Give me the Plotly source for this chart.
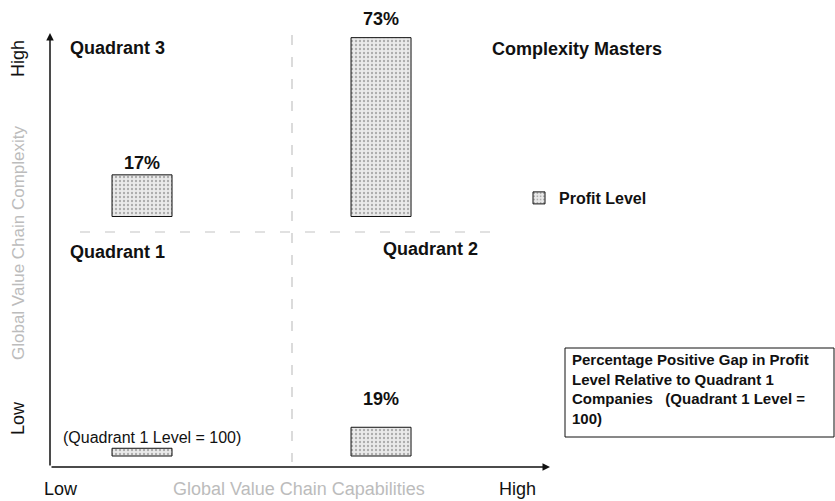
import plotly.graph_objects as go

# Profit level by global value chain capability (Quadrant 1 level = 100)
capability = ["Low", "High"]
profit_low_complexity = [100, 119]    # Quadrant 1, Quadrant 2
profit_high_complexity = [117, 173]   # Quadrant 3, Complexity Masters
reference_level = 100
series_name = "Profit Level"

W, H = 835, 501
ML, MR, MT, MB = 50, 285, 35, 34
PW, PH = W - ML - MR, H - MT - MB


def px_x(px):
    return (px - ML) / PW


def px_y(py):
    return (H - MB - py) / PH


split = px_y(232)          # horizontal quadrant divider
lower_base = 93            # bottom of the lower-half bars
upper_base = reference_level

# value <-> pixel mapping for each half
low_scale = 1.105
low_base_px = 456
low_range = [lower_base - (H - MB - low_base_px) / low_scale,
             lower_base + (low_base_px - 232) / low_scale]
up_scale = 2.45
up_base_px = 216.5
up_range = [upper_base - (232 - up_base_px) / up_scale,
            upper_base + (up_base_px - MT) / up_scale]

font = "Liberation Sans, Arial, sans-serif"
pattern = dict(shape=".", fgcolor="#6f6f6f", bgcolor="#eaeaea", size=4, solidity=0.28)

fig = go.Figure()
fig.add_trace(go.Bar(
    x=capability, y=[v - lower_base for v in profit_low_complexity], base=lower_base,
    width=0.251, xaxis="x", yaxis="y", name=series_name, showlegend=True,
    marker=dict(color="#e4e4e4", pattern=pattern, line=dict(color="#111", width=1)),
    hoverinfo="skip", cliponaxis=False,
))
fig.add_trace(go.Bar(
    x=capability, y=[v - upper_base for v in profit_high_complexity], base=upper_base,
    width=0.251, xaxis="x", yaxis="y2", name=series_name, showlegend=False,
    marker=dict(color="#e4e4e4", pattern=pattern, line=dict(color="#111", width=1)),
    hoverinfo="skip", cliponaxis=False,
))

ann = []
# gap labels above the bars
gap_specs = [
    ("y", capability[1], profit_low_complexity[1], 28),
    ("y2", capability[0], profit_high_complexity[0], 12),
    ("y2", capability[1], profit_high_complexity[1], 19),
]
for yref, cat, level, shift in gap_specs:
    ann.append(dict(x=cat, y=level, xref="x", yref=yref, yanchor="middle", yshift=shift,
                    text=f"<b>{level - reference_level}%</b>", showarrow=False,
                    font=dict(family=font, size=18, color="#111")))


def label(px, py, text, size, bold=False, color="#111", xanchor="left", angle=0):
    ann.append(dict(x=px_x(px), y=px_y(py), xref="paper", yref="paper",
                    text=f"<b>{text}</b>" if bold else text, showarrow=False,
                    xanchor=xanchor, yanchor="middle", textangle=angle,
                    font=dict(family=font, size=size, color=color)))


label(68, 48, "Quadrant 3", 18, bold=True)
label(68, 252, "Quadrant 1", 18, bold=True)
label(381, 249, "Quadrant 2", 18, bold=True)
label(490, 49, "Complexity Masters", 18, bold=True)
label(152, 437, f"(Quadrant 1 Level = {reference_level})", 16, xanchor="center")

# axis end labels and titles
label(18, 59, "High", 18, xanchor="center", angle=-90)
label(18, 418, "Low", 18, xanchor="center", angle=-90)
label(18, 243, "Global Value Chain Complexity", 17, color="#bcbcbc", xanchor="center", angle=-90)
label(61, 489, "Low", 18, xanchor="center")
label(517, 489, "High", 18, xanchor="center")
label(299, 489, "Global Value Chain Capabilities", 18, color="#bcbcbc", xanchor="center")

# explanatory box
ann.append(dict(x=px_x(570), y=px_y(349), xref="paper", yref="paper", xanchor="left", yanchor="top",
                align="left", showarrow=False,
                text="<b>Percentage Positive Gap in Profit<br>Level Relative to Quadrant 1<br>"
                     "Companies   (Quadrant 1 Level =<br>100)</b>",
                font=dict(family=font, size=15, color="#111")))

# axis arrows
ann.append(dict(x=px_x(50), y=px_y(33), xref="paper", yref="paper", ax=0, ay=H - MB - 33,
                showarrow=True, arrowhead=2, arrowsize=1, arrowwidth=1.5, arrowcolor="#111", text=""))
ann.append(dict(x=px_x(550), y=px_y(467), xref="paper", yref="paper", ax=-(550 - ML), ay=0,
                showarrow=True, arrowhead=2, arrowsize=1, arrowwidth=1.5, arrowcolor="#111", text=""))

shapes = [
    # quadrant dividers
    dict(type="line", xref="paper", yref="paper", x0=px_x(80), x1=px_x(505), y0=split, y1=split,
         line=dict(color="#c4c4c4", width=1.2, dash="10px,15px")),
    dict(type="line", xref="paper", yref="paper", x0=px_x(292), x1=px_x(292), y0=px_y(35), y1=px_y(462),
         line=dict(color="#c4c4c4", width=1.2, dash="10px,12px")),
    # explanatory box frame
    dict(type="rect", xref="paper", yref="paper", x0=px_x(565), x1=px_x(834), y0=px_y(437), y1=px_y(348),
         line=dict(color="#111", width=1), fillcolor="rgba(0,0,0,0)"),
]

fig.update_layout(
    width=W, height=H, margin=dict(l=ML, r=MR, t=MT, b=MB),
    paper_bgcolor="white", plot_bgcolor="white",
    barmode="overlay",
    xaxis=dict(domain=[0, 1], range=[-0.385, 1.707], type="category", visible=False, anchor="y"),
    yaxis=dict(domain=[0, split], range=low_range, visible=False, anchor="x"),
    yaxis2=dict(domain=[split, 1], range=up_range, visible=False, anchor="x"),
    legend=dict(x=px_x(519), y=px_y(198), xanchor="left", yanchor="middle",
                font=dict(family=font, size=16, color="#111", weight="bold"),
                bgcolor="rgba(0,0,0,0)", itemwidth=30),
    annotations=ann, shapes=shapes,
    font=dict(family=font),
)

fig.write_html("out.html")
